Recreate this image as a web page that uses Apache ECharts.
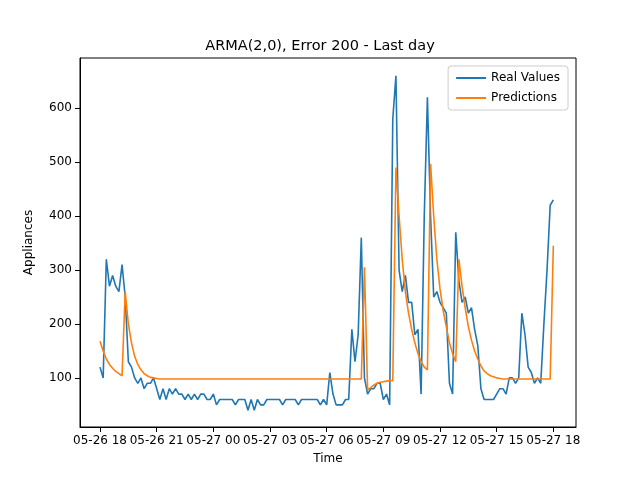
<!DOCTYPE html><html><head><meta charset="utf-8"><script src="https://cdn.jsdelivr.net/npm/echarts@6/dist/echarts.min.js"></script></head><body style="margin:0"><div id="c" style="width:640px;height:480px"></div><script>
const realValues=[120,100,320,270,290,270,260,310,250,130,120,100,90,100,80,90,90,100,80,60,80,60,80,70,80,70,70,60,70,60,70,60,70,70,60,60,70,50,60,60,60,60,60,50,60,60,60,40,60,40,60,50,50,60,60,60,60,60,50,60,60,60,60,50,60,60,60,60,60,60,50,60,50,110,70,50,50,50,60,60,190,130,180,360,100,70,80,80,90,90,60,70,50,580,660,300,260,290,240,240,180,190,70,400,620,400,250,260,240,230,220,90,70,370,280,240,250,220,230,190,160,80,60,60,60,60,70,80,80,70,100,100,90,100,220,180,120,110,90,100,90,200,300,420,430];
const predHead=[168,150,135,125,118,112,108,104,260,200,165,140,125,115,108,104,101,100,99];
const predMid=[305,78,82,87,90,92,93,94,95,95,490,400,320,260,220,190,165,145,130,120,115,497,400,320,265,225,195,165,145,130,320,270,230,195,170,150,135,122,113,108,104,102,100,99];
const predTail=[345];
const tickHours=[0,3,6,9,12,15,18,21,24];
const tickLabels=['05-26 18','05-26 21','05-27 00','05-27 03','05-27 06','05-27 09','05-27 12','05-27 15','05-27 18'];
const yTicks=[100,200,300,400,500,600];
const n=realValues.length;
const pred=predHead.slice();
while(pred.length<84)pred.push(98);
pred.push(...predMid);
while(pred.length<n-1)pred.push(98);
pred.push(...predTail);
const real=realValues.map((v,i)=>[i/6,v]);
const pr=pred.map((v,i)=>[i/6,v]);
const ch=echarts.init(document.getElementById('c'));
const ax={color:'#000'};
ch.setOption({animation:false,
title:{text:'ARMA(2,0), Error 200 - Last day',left:'center',top:34,textStyle:{fontSize:14.5,fontWeight:'normal',color:'#000',fontFamily:'DejaVu Sans'}},
legend:{right:72,top:66,orient:'vertical',itemWidth:30,itemHeight:2,itemGap:8,borderColor:'#ccc',borderWidth:1,borderRadius:3,padding:[6,8],textStyle:{fontSize:12,fontFamily:'DejaVu Sans',color:'#000'},data:[{name:'Real Values',icon:'rect'},{name:'Predictions',icon:'rect'}]},
grid:{left:80,right:64,top:58,bottom:53,show:true,borderColor:'#000',borderWidth:1},
xAxis:{type:'value',min:-1.06,max:25.2,name:'Time',nameLocation:'middle',nameGap:26,nameTextStyle:{fontSize:12,fontFamily:'DejaVu Sans',color:'#000'},splitLine:{show:false},axisLine:{onZero:false,lineStyle:ax},
axisTick:{customValues:tickHours,lineStyle:ax},axisLabel:{customValues:tickHours,formatter:v=>tickLabels[tickHours.indexOf(Math.round(v))]||'',fontSize:12,fontFamily:'DejaVu Sans',color:'#000'}},
yAxis:{type:'value',min:9,max:693,name:'Appliances',nameLocation:'middle',nameGap:45,nameTextStyle:{fontSize:12,fontFamily:'DejaVu Sans',color:'#000'},splitLine:{show:false},axisLine:{show:true,onZero:false,lineStyle:ax},
axisTick:{show:true,customValues:yTicks,lineStyle:ax},axisLabel:{customValues:yTicks,fontSize:12,fontFamily:'DejaVu Sans',color:'#000'}},
series:[{name:'Real Values',type:'line',data:real,showSymbol:false,lineStyle:{width:1.6,color:'#1f77b4'},itemStyle:{color:'#1f77b4'}},
{name:'Predictions',type:'line',data:pr,showSymbol:false,lineStyle:{width:1.6,color:'#ff7f0e'},itemStyle:{color:'#ff7f0e'}}]});
</script></body></html>
